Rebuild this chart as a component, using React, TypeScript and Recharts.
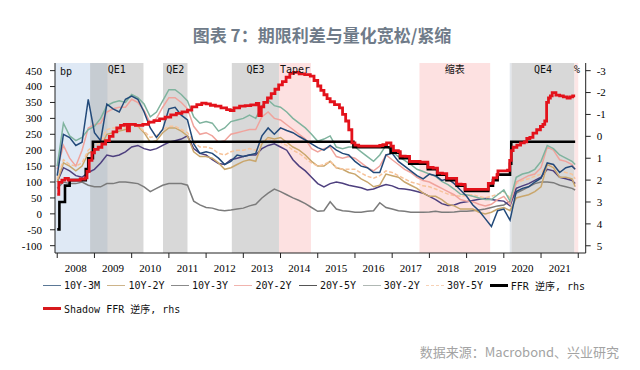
import React from 'react';
import { ComposedChart, Line, XAxis, YAxis, ReferenceArea } from 'recharts';

// ---- x positions: months since Jan 2008 (bi-monthly samples, last = Dec 2021)
const months = [
  0, 2, 4, 6, 8, 10, 12, 14, 16, 18, 20, 22, 24, 26, 28, 30, 32, 34, 36, 38, 40, 42, 44, 46,
  48, 50, 52, 54, 56, 58, 60, 62, 64, 66, 68, 70, 72, 74, 76, 78, 80, 82, 84, 86, 88, 90, 92, 94,
  96, 98, 100, 102, 104, 106, 108, 110, 112, 114, 116, 118, 120, 122, 124, 126, 128, 130, 132, 134, 136, 138, 140, 142,
  144, 146, 148, 150, 152, 154, 156, 158, 160, 162, 164, 166, 167,
];

// ---- spreads, bp (left axis)
const s10y3m = [
  120, 250, 240, 215, 225, 360, 255, 230, 345, 330, 320, 360, 370, 360, 320, 270, 240, 265,
  330, 335, 310, 295, 220, 190, 195, 190, 175, 155, 165, 185, 180, 185, 190, 245, 270, 250,
  270, 262, 255, 243, 232, 220, 208, 200, 215, 200, 190, 185, 165, 150, 145, 130, 130, 185,
  190, 165, 150, 135, 120, 110, 125, 120, 105, 110, 95, 75, 55, 28, 10, -15, -40, 10,
  15, -20, 70, 80, 85, 100, 112, 160, 155, 130, 145, 150, 140,
];
const s10y2y = [
  100, 160, 150, 135, 150, 190, 200, 210, 250, 255, 260, 265, 280, 275, 255, 225, 230, 255,
  270, 270, 260, 245, 195, 180, 180, 175, 160, 140, 145, 155, 165, 170, 165, 220, 240, 235,
  240, 225, 210, 200, 185, 165, 150, 150, 165, 145, 140, 130, 125, 110, 100, 85, 90, 125,
  120, 115, 100, 90, 80, 65, 55, 55, 45, 30, 25, 15, 15, 15, 5, 0, 5, 15,
  20, 10, 50, 55, 60, 70, 85, 155, 145, 115, 115, 110, 85,
];
const s10y3y = [
  80, 100, 95, 95, 100, 90, 85, 85, 95, 95, 100, 100, 98, 95, 85, 70, 80, 90,
  95, 95, 95, 90, 40, 28, 20, 18, 12, 10, 12, 15, 18, 25, 30, 50, 65, 78,
  70, 60, 50, 42, 32, 20, 8, 10, 38, 15, 10, 8, 5, 5, 8, 10, 35, 20,
  15, 10, 8, 5, 5, 5, 6, 8, 5, 5, 6, 8, 8, 10, 12, 15, 20, 25,
  28, 40, 65, 75, 85, 95, 100, 100, 98, 90, 85, 80, 75,
];
const s20y2y = [
  140, 215, 175, 150, 200, 270, 280, 285, 320, 330, 335, 335, 360, 350, 325, 285, 300, 335,
  365, 365, 350, 330, 275, 250, 255, 245, 225, 230, 250, 255, 260, 265, 265, 305, 320, 300,
  295, 280, 265, 250, 235, 205, 195, 205, 210, 180, 175, 180, 175, 160, 145, 135, 150, 185,
  170, 155, 140, 130, 115, 105, 100, 90, 80, 70, 60, 45, 40, 38, 30, 25, 30, 45,
  55, 30, 100, 110, 120, 125, 145, 210, 200, 170, 165, 155, 140,
];
const s20y5y = [
  100, 145, 135, 120, 115, 130, 140, 160, 185, 180, 185, 195, 210, 215, 205, 200, 205, 215,
  225, 230, 235, 245, 205, 190, 185, 170, 158, 155, 170, 175, 180, 185, 185, 205, 215, 220,
  210, 200, 170, 150, 135, 115, 95, 85, 95, 100, 96, 90, 86, 82, 75, 78, 86, 92,
  88, 80, 78, 75, 70, 65, 55, 45, 32, 26, 28, 35, 38, 42, 46, 48, 45, 42,
  40, 25, 80, 88, 95, 105, 115, 140, 135, 115, 110, 105, 95,
];
const s30y2y = [
  150, 285, 245, 230, 240, 265, 275, 300, 340, 350, 355, 350, 375, 365, 345, 305, 320, 355,
  390, 390, 375, 355, 305, 285, 290, 285, 260, 270, 290, 295, 300, 310, 300, 340, 358, 340,
  335, 320, 300, 285, 270, 250, 228, 235, 245, 210, 205, 210, 210, 195, 180, 165, 185, 215,
  195, 180, 168, 155, 140, 133, 125, 118, 102, 92, 78, 62, 60, 55, 50, 45, 45, 60,
  75, 40, 115, 125, 130, 140, 165, 215, 205, 185, 175, 165, 155,
];
const s30y5y = [
  110, 170, 155, 150, 160, 200, 215, 225, 265, 270, 270, 270, 280, 275, 260, 240, 245, 265,
  275, 275, 265, 255, 225, 210, 210, 205, 190, 185, 195, 200, 200, 205, 200, 225, 235, 230,
  225, 215, 200, 190, 175, 160, 150, 155, 165, 145, 140, 140, 140, 128, 118, 112, 120, 135,
  130, 120, 110, 100, 95, 88, 85, 78, 70, 62, 58, 55, 58, 60, 55, 50, 55, 62,
  70, 50, 95, 105, 110, 118, 125, 160, 150, 135, 130, 125, 110,
];

// ---- policy rates, % (right axis, reversed)
const ffrMonths = [0, 0.7, 2.5, 4, 9.2, 10, 11.5, 95.5, 107.5, 110.5, 113.5, 119.5, 122.5, 125.5, 128.8, 131.5, 139, 140.5, 142, 146, 146.4, 167];
const ffrValues = [4.25, 3.0, 2.25, 2.0, 1.5, 1.0, 0.25, 0.5, 0.75, 1.0, 1.25, 1.5, 1.75, 2.0, 2.25, 2.5, 2.25, 2.0, 1.75, 1.25, 0.25, 0.25];

const shadowMonths = [
  0, 0.5, 1.5, 2.5, 3.6, 6, 7.4, 9, 9.6, 10.3, 11.2, 12, 13.2, 14.4, 15.6, 16.8, 18, 19.2, 20.4, 21.6, 22.6, 23.3,
  25.2, 27.6, 29.4, 31.2, 33, 34.8, 36.6, 38.4, 40.2, 42, 43.4, 45, 46.6, 48, 49.4, 51, 52.8, 54.6, 55.8, 57,
  58.8, 60.6, 62.4, 64.2, 65, 65.8, 66.6, 67.8, 69, 70.2, 71.4, 72.6, 73.8, 75, 76.2, 78, 79.8, 81.6, 82.8,
  84, 85, 86, 87, 88, 89.4, 91, 92, 93, 94, 95, 96, 97.2, 104, 105, 106.2, 107.6, 108.4, 110, 110.6, 112.2,
  113.6, 115.4, 117, 119.5, 121.2, 122.6, 124.2, 125.6, 127.2, 128.8, 130.2, 131.5, 138, 139, 140.4, 140.6,
  141.8, 142.1, 145.2, 145.9, 146.4, 147, 148.2, 149.4, 150.6, 151.4, 152.4, 153.4, 154.6, 155.8, 156.6,
  157.2, 157.8, 158.4, 159, 159.6, 160.8, 162, 163.2, 164.4, 165.4, 166.2, 167,
];
const shadowValues = [
  2.65, 2.1, 2.0, 1.92, 2.0, 2.0, 1.95, 1.9, 1.6, 1.1, 0.75, 0.6, 0.5, 0.35, 0.2, 0.0, -0.2, -0.38, -0.5, -0.55, -0.25, -0.55,
  -0.5, -0.55, -0.65, -0.72, -0.8, -0.88, -0.98, -1.05, -1.12, -1.2, -1.35, -1.45, -1.52, -1.48, -1.42, -1.38, -1.3, -1.22, -1.18, -1.3,
  -1.38, -1.4, -1.44, -1.5, -0.95, -1.35, -1.55, -1.75, -1.95, -2.15, -2.35, -2.5, -2.7, -2.88, -2.92, -2.85, -2.82, -2.75, -2.55,
  -2.3, -2.1, -1.9, -1.72, -1.58, -1.45, -1.3, -1.0, -0.7, -0.3, 0.3, 0.4, 0.45, 0.42, 0.38, 0.3, 0.45, 0.65, 0.7, 0.9, 0.92,
  1.15, 1.15, 1.18, 1.42, 1.45, 1.68, 1.7, 1.92, 1.92, 2.18, 2.2, 2.42, 2.42, 2.15, 2.12, 1.9,
  1.75, 1.58, 1.55, 1.1, 0.65, 0.5, 0.4, 0.3, 0.25, 0.1, 0.05, -0.15, -0.3, -0.45, -0.55,
  -0.7, -1.55, -1.75, -1.85, -2.0, -1.88, -1.85, -1.8, -1.75, -1.8, -1.85, -1.85,
];

// ---- axis ticks
const yearTicks = [0, 12, 24, 36, 48, 60, 72, 84, 96, 108, 120, 132, 144, 156, 168];
const leftTicks = [-100, -50, 0, 50, 100, 150, 200, 250, 300, 350, 400, 450];
const rightTicks = [-3, -2, -1, 0, 1, 2, 3, 4, 5];

// ---- shaded regimes (months)
const regimes = [
  { x1: -0.72, x2: 16.2, fill: '#dfe9f5', op: 1, label: 'bp', pos: 'insideTopLeft' },
  { x1: 10.6, x2: 27.8, fill: '#a9a9a9', op: 0.45, label: 'QE1', pos: 'insideTop' },
  { x1: 34.1, x2: 42, fill: '#a9a9a9', op: 0.45, label: 'QE2', pos: 'insideTop' },
  { x1: 56.3, x2: 71.5, fill: '#a9a9a9', op: 0.45, label: 'QE3', pos: 'insideTop' },
  { x1: 71.5, x2: 81.8, fill: '#fde1e1', op: 1, label: 'Taper', pos: 'insideTop' },
  { x1: 116.8, x2: 139.6, fill: '#fde1e1', op: 1, label: '缩表', pos: 'insideTop' },
  { x1: 145.9, x2: 146.5, fill: '#e3e7ec', op: 1, label: '', pos: 'insideTop' },
  { x1: 146.5, x2: 166.8, fill: '#a9a9a9', op: 0.45, label: 'QE4', pos: 'insideTop' },
  { x1: 166.8, x2: 168, fill: '#fde6e6', op: 1, label: '', pos: 'insideTop' },
];

const spreadSeries = [
  { key: 's10y3y', name: '10Y-3Y', values: s10y3y, color: '#7b7b7b', dash: undefined as string | undefined },
  { key: 's20y5y', name: '20Y-5Y', values: s20y5y, color: '#4d3f7e', dash: undefined },
  { key: 's10y2y', name: '10Y-2Y', values: s10y2y, color: '#c9a66c', dash: undefined },
  { key: 's30y5y', name: '30Y-5Y', values: s30y5y, color: '#f7c39a', dash: '4 2' },
  { key: 's20y2y', name: '20Y-2Y', values: s20y2y, color: '#f0a39c', dash: undefined },
  { key: 's30y2y', name: '30Y-2Y', values: s30y2y, color: '#7fb39e', dash: undefined },
  { key: 's10y3m', name: '10Y-3M', values: s10y3m, color: '#234a7a', dash: undefined },
];

const legendRow1 = [
  { name: '10Y-3M', color: '#5b7896', w: 1.5 },
  { name: '10Y-2Y', color: '#cdb48a', w: 1.5 },
  { name: '10Y-3Y', color: '#8a8a8a', w: 1.5 },
  { name: '20Y-2Y', color: '#f1b4ae', w: 1.5 },
  { name: '20Y-5Y', color: '#555555', w: 1.5 },
  { name: '30Y-2Y', color: '#b0b8b4', w: 1.5 },
  { name: '30Y-5Y', color: '#f7d2b6', w: 1.5, dash: true },
  { name: 'FFR 逆序, rhs', color: '#000000', w: 3 },
];
const legendRow2 = [{ name: 'Shadow FFR 逆序, rhs', color: '#d7191c', w: 3 }];
const legendX1 = [43, 107.4, 171, 234.4, 299, 362.7, 426, 489.8];

// ---- geometry
const W = 640;
const H = 370;
const M = { top: 63, right: 24.3, bottom: 87, left: 10 };
const YL_W = 45;
const YR_W = 30;
const X_MIN = -0.72;
const X_MAX = 170.4;
const PLOT_W = W - M.left - M.right - YL_W - YR_W;
const HALF_YEAR_PX = (PLOT_W / (X_MAX - X_MIN)) * 6;

const spreadTable = months.map((m, i) => {
  const row: Record<string, number> = { m };
  spreadSeries.forEach((s) => {
    row[s.key] = s.values[i];
  });
  return row;
});
const ffrTable = ffrMonths.map((m, i) => ({ m, ffr: ffrValues[i] }));
const shadowTable = shadowMonths.map((m, i) => ({ m, shadow: shadowValues[i] }));

const SERIF = '"Liberation Serif", "Times New Roman", serif';
const MONO = '"DejaVu Sans Mono", "Noto Sans CJK SC", monospace';
const CJK = '"Noto Sans CJK SC", "Noto Sans", sans-serif';

const YearTick = (props: any) => {
  const { x, y, payload } = props;
  const m = payload.value as number;
  if (m >= 168) return null;
  return (
    <text x={x + HALF_YEAR_PX} y={y} dy="0.71em" textAnchor="middle" fontFamily={SERIF} fontSize={11} fill="#000">
      {2008 + m / 12}
    </text>
  );
};

const LegendItem = ({ x, y, item }: { x: number; y: number; item: any }) => (
  <div
    style={{
      position: 'absolute',
      left: x,
      top: y - 7,
      height: 14,
      display: 'flex',
      alignItems: 'center',
      whiteSpace: 'nowrap',
      fontFamily: MONO,
      fontSize: 10,
      color: '#111',
    }}
  >
    <span
      style={{
        display: 'inline-block',
        width: 18,
        height: 0,
        borderTop: `${item.w}px ${item.dash ? 'dashed' : 'solid'} ${item.color}`,
        marginRight: 3,
      }}
    />
    <span>{item.name}</span>
  </div>
);

export default function App() {
  return (
    <div style={{ position: 'absolute', left: 0, top: 0, width: W, height: H, background: '#fff', overflow: 'hidden' }}>
      <div
        style={{
          position: 'absolute',
          left: 0,
          top: 24,
          width: W,
          textAlign: 'center',
          fontFamily: CJK,
          fontSize: 17,
          fontWeight: 700,
          lineHeight: '22px',
          color: '#6f7b89',
          paddingLeft: 2,
        }}
      >
        图表 7：期限利差与量化宽松/紧缩
      </div>

      <ComposedChart width={W} height={H} margin={M} style={{ position: 'absolute', left: 0, top: 0 }}>
        <XAxis
          dataKey="m"
          type="number"
          domain={[X_MIN, X_MAX]}
          allowDataOverflow
          ticks={yearTicks}
          tick={<YearTick />}
          tickSize={5}
          tickMargin={6}
          height={30}
          stroke="#222"
          interval={0}
        />
        <YAxis
          yAxisId="left"
          orientation="left"
          width={YL_W}
          domain={[-123, 474]}
          allowDataOverflow
          ticks={leftTicks}
          interval={0}
          tickSize={5}
          tickMargin={8}
          stroke="#222"
          tick={{ fontFamily: SERIF, fontSize: 11, fill: '#000' }}
        />
        <YAxis
          yAxisId="right"
          orientation="right"
          width={YR_W}
          reversed
          domain={[-3.35, 5.33]}
          allowDataOverflow
          ticks={rightTicks}
          interval={0}
          tickSize={5}
          tickMargin={6}
          stroke="#222"
          tick={{ fontFamily: SERIF, fontSize: 11, fill: '#000' }}
        />
        {regimes.map((r, i) => (
          <ReferenceArea
            key={'ra' + i}
            yAxisId="left"
            x1={r.x1}
            x2={r.x2}
            fill={r.fill}
            fillOpacity={r.op}
            stroke="none"
            ifOverflow="hidden"
            label={
              r.label
                ? {
                    value: r.label,
                    position: r.pos as any,
                    offset: r.pos === 'insideTopLeft' ? 5 : 3,
                    fill: '#111',
                    fontSize: 10,
                    fontFamily: MONO,
                  }
                : undefined
            }
          />
        ))}
        {spreadSeries.map((s) => (
          <Line
            key={s.key}
            yAxisId="left"
            data={spreadTable}
            dataKey={s.key}
            name={s.name}
            type="linear"
            stroke={s.color}
            strokeWidth={1.5}
            strokeDasharray={s.dash}
            dot={false}
            isAnimationActive={false}
          />
        ))}
        <Line
          yAxisId="right"
          data={ffrTable}
          dataKey="ffr"
          name="FFR 逆序, rhs"
          type="stepAfter"
          stroke="#000"
          strokeWidth={2.6}
          dot={false}
          isAnimationActive={false}
        />
        <Line
          yAxisId="right"
          data={shadowTable}
          dataKey="shadow"
          name="Shadow FFR 逆序, rhs"
          type="stepAfter"
          stroke="#e3121b"
          strokeWidth={2.8}
          dot={false}
          isAnimationActive={false}
        />
      </ComposedChart>

      <div style={{ position: 'absolute', left: 574, top: 64, fontFamily: MONO, fontSize: 10, color: '#111' }}>%</div>

      {legendRow1.map((it, i) => (
        <LegendItem key={it.name} x={legendX1[i]} y={285.7} item={it} />
      ))}
      {legendRow2.map((it) => (
        <LegendItem key={it.name} x={43} y={308} item={it} />
      ))}

      <div
        style={{
          position: 'absolute',
          right: W - 619,
          top: 343,
          fontFamily: CJK,
          fontSize: 13,
          lineHeight: '18px',
          color: '#a3a3a3',
        }}
      >
        数据来源：Macrobond、兴业研究
      </div>
    </div>
  );
}
